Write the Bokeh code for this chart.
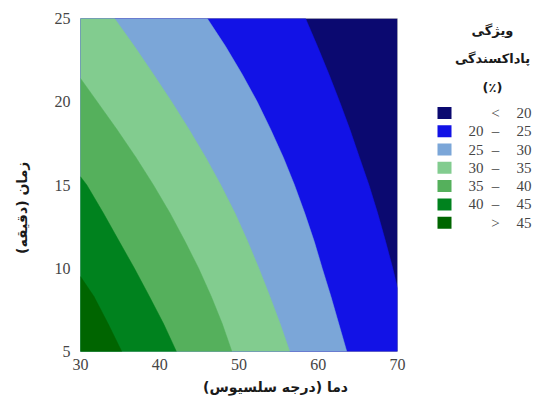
import math
from bokeh.plotting import figure
from bokeh.models import Range1d, FixedTicker, ColumnDataSource
from bokeh.layouts import row, column
from bokeh.core.properties import value
from bokeh.embed import file_html
from bokeh.resources import INLINE

# ---------------- data ----------------
temp_lim = [30, 70]          # x: دما (درجه سلسیوس)
time_lim = [5, 25]           # y: زمان (دقیقه)
x_ticks = [30, 40, 50, 60, 70]
y_ticks = [5, 10, 15, 20, 25]

# contour boundaries (temperature, time) for each level
b20_temp = [58.4, 59.9, 61.35, 62.7, 64.0, 65.2, 66.4, 67.5, 68.5, 69.4, 70.0]
b20_time = [25.0, 23.33, 21.65, 20.0, 18.33, 16.65, 15.0, 13.3, 11.6, 10.0, 8.8]

b25_temp = [46.0, 48.3, 50.4, 52.3, 54.0, 55.6, 57.0, 58.3, 59.5, 60.5, 61.6, 62.6, 63.6]
b25_time = [25.0, 23.33, 21.65, 20.0, 18.33, 16.65, 15.0, 13.3, 11.6, 10.0, 8.3, 6.65, 5.0]

b30_temp = [34.3, 36.8, 39.2, 41.5, 43.7, 45.8, 47.7, 49.5, 51.1, 52.5, 53.9, 55.2, 56.4]
b30_time = [25.0, 23.33, 21.65, 20.0, 18.33, 16.65, 15.0, 13.3, 11.6, 10.0, 8.3, 6.65, 5.0]

b35_temp = [30.0, 32.1, 34.6, 37.0, 39.2, 41.3, 43.2, 44.9, 46.5, 47.9, 49.1]
b35_time = [21.4, 20.0, 18.33, 16.65, 15.0, 13.3, 11.6, 10.0, 8.3, 6.65, 5.0]

b40_temp = [30.0, 30.8, 32.9, 34.9, 36.8, 38.7, 40.5, 42.1]
b40_time = [15.5, 15.0, 13.3, 11.6, 10.0, 8.3, 6.65, 5.0]

b45_temp = [30.0, 31.7, 33.5, 35.2]
b45_time = [9.5, 8.3, 6.65, 5.0]

levels = [20, 25, 30, 35, 40, 45]
band_colors = ["#0b0970", "#1212e6", "#7ba6d8", "#82cc8f", "#55b05c", "#00821e", "#006500"]
legend_low = ["", "20", "25", "30", "35", "40", ""]
legend_sym = ["<", "–", "–", "–", "–", "–", ">"]
legend_high = ["20", "25", "30", "35", "40", "45", "45"]

x_title = "دما (درجه سلسیوس)"
y_title = "زمان (دقیقه)"
legend_title = ["ویژگی", "پاداکسندگی", "(٪)"]

TITLE_FONT = "DejaVu Sans"
TICK_FONT = "Liberation Serif"
TICK_COLOR = "#454545"


def blank(width, height):
    f = figure(width=width, height=height, x_range=Range1d(0, width), y_range=Range1d(height, 0),
               toolbar_location=None, output_backend="svg", min_border=0,
               x_axis_location=None, y_axis_location=None)
    f.outline_line_color = None
    f.grid.visible = False
    f.background_fill_color = "white"
    f.border_fill_color = "white"
    return f


# ---------------- main contour plot ----------------
p = figure(width=375, height=373, x_range=Range1d(*temp_lim), y_range=Range1d(*time_lim),
           toolbar_location=None, output_backend="svg",
           min_border_left=35, min_border_right=23, min_border_top=18, min_border_bottom=22)
p.background_fill_color = "white"
p.border_fill_color = "white"
p.outline_line_color = "#c8c8c8"
p.grid.visible = False

p.quad(left=[temp_lim[0]], right=[temp_lim[1]], bottom=[time_lim[0]], top=[time_lim[1]],
       fill_color=band_colors[0], line_color=None)

bounds = [(b20_temp, b20_time), (b25_temp, b25_time), (b30_temp, b30_time),
          (b35_temp, b35_time), (b40_temp, b40_time), (b45_temp, b45_time)]
for (bx, by), c in zip(bounds, band_colors[1:]):
    xs = list(bx)
    ys = list(by)
    if ys[-1] > time_lim[0]:
        xs.append(temp_lim[1]); ys.append(time_lim[0])
    xs.append(temp_lim[0]); ys.append(time_lim[0])
    if ys[0] >= time_lim[1] and xs[0] > temp_lim[0]:
        xs.append(temp_lim[0]); ys.append(time_lim[1])
    p.patch(xs, ys, fill_color=c, line_color=c, line_width=0.5)

for ax, ticks in ((p.xaxis, x_ticks), (p.yaxis, y_ticks)):
    ax.ticker = FixedTicker(ticks=ticks)
    ax.major_tick_line_color = None
    ax.minor_tick_line_color = None
    ax.axis_line_color = None
    ax.major_label_text_font = TICK_FONT
    ax.major_label_text_font_size = "16px"
    ax.major_label_text_color = TICK_COLOR
p.xaxis.major_label_standoff = 1
p.yaxis.major_label_standoff = 4

# ---------------- axis titles ----------------
yfig = blank(45, 373)
yfig.text(x=[21], y=[212], text=[y_title], angle=math.pi / 2, text_align="center",
          text_baseline="middle", text_font=value(TITLE_FONT), text_font_style="bold",
          text_font_size="14px", text_color="#1a1a1a")

xfig = blank(420, 27)
xfig.text(x=[275], y=[13], text=[x_title], text_align="center", text_baseline="middle",
          text_font=value(TITLE_FONT), text_font_style="bold", text_font_size="14px",
          text_color="#1a1a1a")

# ---------------- legend panel ----------------
leg = blank(113, 400)
row_top, row_step = 112.4, 18.3
row_y = [row_top + i * row_step for i in range(len(band_colors))]
src = ColumnDataSource(dict(y=row_y, color=band_colors, low=legend_low, sym=legend_sym, high=legend_high))
leg.rect(x=24, y="y", width=14, height=12, fill_color="color", line_color=None, source=src)
common = dict(y="y", source=src, text_font=value(TICK_FONT), text_font_size="15px",
              text_color=TICK_COLOR, text_baseline="middle")
leg.text(x=63, text="low", text_align="right", **common)
leg.text(x=75, text="sym", text_align="center", **common)
leg.text(x=111, text="high", text_align="right", **common)

leg.text(x=[72, 72, 72], y=[30, 58, 87], text=legend_title, text_align="center",
         text_baseline="middle", text_font=value(TITLE_FONT), text_font_style="bold",
         text_font_size="13px", text_color="#1a1a1a")

layout = row(column(row(yfig, p), xfig), leg)
open("out.html", "w").write(file_html(layout, INLINE))
